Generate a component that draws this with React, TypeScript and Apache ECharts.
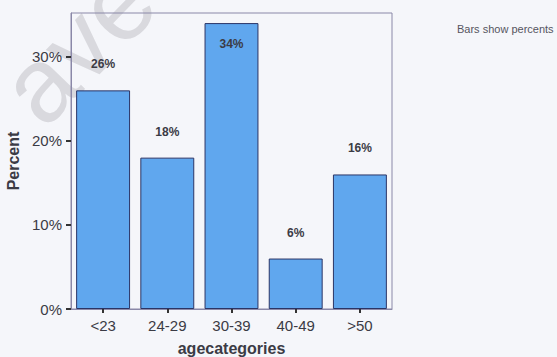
import React, { useEffect, useRef } from "react";
import * as echarts from "echarts";

// Age group distribution (percent of respondents)
const categories = ["<23", "24-29", "30-39", "40-49", ">50"];
const percents = [26, 18, 34, 6, 16];
const yTicks = [0, 10, 20, 30];

const TEXT = "#3b3b45";
const FONT = "'Liberation Sans', Arial, sans-serif";

export default function App() {
  const ref = useRef<HTMLDivElement>(null);

  useEffect(() => {
    if (!ref.current) return;
    const chart = echarts.init(ref.current, undefined, { renderer: "svg" });
    const peak = Math.max(...percents);
    chart.setOption({
      animation: false,
      backgroundColor: "#f5f6fa",
      textStyle: { fontFamily: FONT },
      grid: {
        left: 71,
        top: 13,
        right: 165,
        bottom: 48,
        outerBoundsMode: "none",
        containLabel: false,
        show: true,
        borderColor: "#8a88a8",
        borderWidth: 1,
        backgroundColor: "transparent",
      },
      graphic: [
        {
          type: "text",
          x: 56,
          y: 142,
          rotation: 0.8,
          silent: true,
          z: -1,
          style: {
            text: "ave",
            fill: "#d9d9de",
            font: `105px ${FONT}`,
            verticalAlign: "bottom",
          },
        },
        {
          type: "text",
          left: 457,
          top: 23,
          style: {
            text: "Bars show percents",
            fill: "#55555f",
            font: `11px ${FONT}`,
          },
        },
      ],
      xAxis: {
        type: "category",
        data: categories,
        name: "agecategories",
        nameLocation: "middle",
        nameGap: 31,
        nameTextStyle: { color: TEXT, fontSize: 16, fontWeight: "bold" },
        axisLine: { show: true, lineStyle: { color: "#8a88a8" } },
        axisTick: { show: true, alignWithLabel: true, length: 4, lineStyle: { color: "#333", width: 2 } },
        axisLabel: { color: TEXT, fontSize: 15, margin: 9 },
        splitLine: { show: false },
      },
      yAxis: {
        type: "value",
        min: 0,
        max: 35.2,
        name: "Percent",
        nameLocation: "middle",
        nameGap: 50,
        nameTextStyle: { color: TEXT, fontSize: 16, fontWeight: "bold" },
        axisLine: { show: true, lineStyle: { color: "#8a88a8" } },
        axisTick: { show: true, length: 5, customValues: yTicks, lineStyle: { color: "#333", width: 2 } },
        axisLabel: {
          color: TEXT,
          fontSize: 15,
          margin: 9,
          customValues: yTicks,
          formatter: (v: number) => `${v}%`,
        },
        splitLine: { show: false },
      },
      series: [
        {
          type: "bar",
          data: percents.map((v) => ({
            value: v,
            label:
              v === peak
                ? { position: "insideTop", distance: 15 }
                : { position: "top", distance: 20 },
          })),
          barWidth: "84%",
          itemStyle: { color: "#60a7ee", borderColor: "#2b3566", borderWidth: 1 },
          label: {
            show: true,
            formatter: (p: any) => `${p.value}%`,
            color: TEXT,
            fontSize: 12,
            fontWeight: "bold",
          },
        },
      ],
    });
    return () => chart.dispose();
  }, []);

  return (
    <div
      ref={ref}
      style={{ position: "fixed", left: 0, top: 0, width: 557, height: 357 }}
    />
  );
}
